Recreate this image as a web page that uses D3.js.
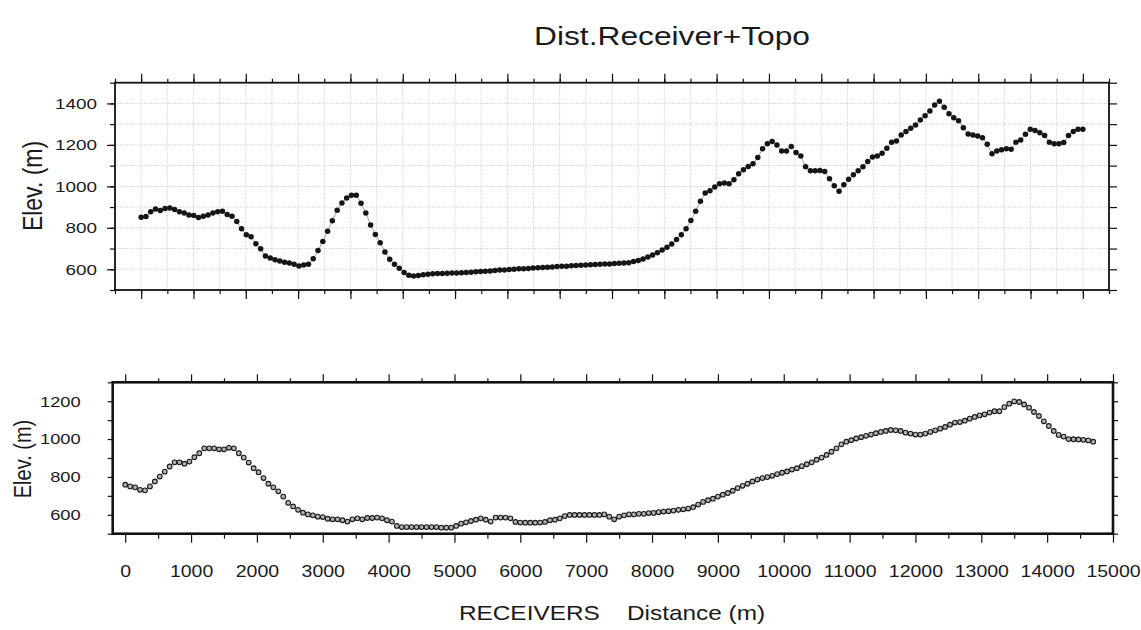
<!DOCTYPE html>
<html>
<head>
<meta charset="utf-8">
<script src="https://cdn.jsdelivr.net/npm/d3@7"></script>
<style>
  html, body { margin: 0; padding: 0; background: #fff; }
  text { font-family: "Liberation Sans", Arial, Helvetica, sans-serif; fill: #1a1a1a; }
</style>
</head>
<body>
<svg id="chart" width="1141" height="630"></svg>
<script>
// Upper profile: receiver elevations (m), one value per receiver station
const topElevation = [
  851, 854, 878, 891, 883, 893, 896, 888, 878, 872, 862, 859, 850, 856, 862, 872, 878, 880, 864, 856,
  830, 795, 766, 757, 723, 699, 664, 654, 646, 640, 634, 630, 624, 616, 621, 624, 651, 690, 734, 784,
  834, 885, 920, 944, 957, 957, 918, 872, 814, 768, 728, 683, 648, 624, 605, 584, 571, 568, 570, 573,
  576, 578, 579, 579, 581, 582, 582,
  583, 585, 586, 588, 589, 591, 592, 594, 596, 597, 599, 600, 602, 603, 604, 606, 607, 609, 610, 611,
  613, 614, 615, 617, 618, 619, 620, 622, 623, 624, 625, 626, 628, 629, 630, 632,
  637, 642, 650, 659, 669, 680, 693, 706, 722, 744, 766, 795, 835, 880, 928, 968, 979, 997, 1013, 1016,
  1013, 1032, 1061, 1080,
  1096, 1109, 1139, 1181, 1206, 1216, 1200, 1171, 1171, 1192, 1163, 1147, 1094, 1075, 1075, 1077, 1072, 1037, 1003, 976,
  1008, 1034, 1056, 1075, 1094, 1120, 1141, 1146, 1160, 1184, 1213, 1219, 1248, 1264, 1280, 1296, 1320, 1341, 1363, 1392,
  1411, 1382, 1350, 1331, 1317, 1283, 1253, 1248, 1243, 1235, 1203, 1157, 1171, 1176, 1181, 1179, 1213, 1224, 1251, 1275,
  1270, 1259, 1245, 1213, 1206, 1205, 1211, 1245, 1264, 1275, 1275
];
const topLineLength = 18000;          // distance covered by the upper profile
// Lower profile: receiver elevations (m) every 75 m
const bottomElevation = [
  759, 750, 745, 732, 729, 750, 776, 802, 828, 855, 877, 877, 870, 881, 904, 925, 951, 951, 951, 946,
  946, 954, 951, 925, 902, 876, 846, 825, 794, 764, 745, 724, 696, 663, 644, 626, 611, 602, 597, 590,
  588, 579, 576, 576, 571, 564, 576, 581, 576, 583, 583, 585, 581, 571, 564, 541, 535, 535, 535, 535,
  535, 535, 535, 535, 532, 532, 532, 541, 553, 560, 567, 574, 581, 574, 564, 585, 585, 585, 581, 562,
  559, 558, 558, 558, 559, 562, 571, 574, 581, 593, 599, 599, 599, 599, 599, 599, 599,
  602, 590, 576, 590, 597, 602, 602, 605, 605, 609, 610, 614, 617, 619, 622, 626, 629, 633, 640, 654,
  668, 677, 685, 696, 706, 715, 727, 741, 753, 764, 776, 786, 794, 799, 806, 815, 822, 829, 839, 846,
  857, 867, 877, 891, 902, 916, 933, 951, 972, 986, 994, 1003, 1010, 1017, 1024, 1031, 1038, 1043, 1048, 1046,
  1043, 1034, 1029, 1024, 1024, 1029, 1038, 1046, 1055, 1064, 1076, 1087, 1090, 1097, 1108, 1117, 1125, 1131, 1140, 1147,
  1147, 1169, 1187, 1199, 1196, 1183, 1166, 1143, 1122, 1094, 1069, 1043, 1022, 1013, 1000, 999, 998, 996, 993, 986
];
const bottomSpacing = 75;             // m between receivers

// Tick values
const topYTicks = [600, 800, 1000, 1200, 1400];
const bottomYTicks = [600, 800, 1000, 1200];
const bottomXTicks = [0, 1000, 2000, 3000, 4000, 5000, 6000, 7000, 8000, 9000, 10000, 11000, 12000, 13000, 14000, 15000];

const SX = 1.22;   // horizontal stretch of the lettering
const svg = d3.select("#chart");

const topPts = topElevation.map((e, i) => ({ d: i * topLineLength / (topElevation.length - 1), e }));
const botPts = bottomElevation.map((e, i) => ({ d: i * bottomSpacing, e }));

// ---------- scales ----------
const xTop = d3.scaleLinear().domain([-500, 18500]).range([115, 1109]);
const yTop = d3.scaleLinear().domain([500, 1500]).range([290, 82.7]);
const xBot = d3.scaleLinear().domain([-190, 15000]).range([112.7, 1113]);
const yBot = d3.scaleLinear().domain([500, 1300]).range([533.7, 382.3]);

function cleanAxis(g) {
  g.select(".domain").remove();
  g.selectAll(".tick line").attr("stroke", "#111").attr("stroke-width", 1.2);
}
function stretchLeftLabels(g, fs) {
  g.selectAll(".tick text")
    .attr("font-size", fs)
    .attr("transform", `scale(${SX},1)`)
    .attr("x", function () { return +this.getAttribute("x") / SX; });
}
function stretchBottomLabels(g, fs) {
  g.selectAll(".tick text").attr("font-size", fs).attr("transform", `scale(${SX},1)`);
}

// ---------- upper panel ----------
const gTop = svg.append("g");
// dotted grid
gTop.append("g").selectAll("line")
  .data(d3.range(0, 18001, 500))
  .join("line")
  .attr("x1", d => xTop(d)).attr("x2", d => xTop(d))
  .attr("y1", yTop(1500)).attr("y2", yTop(500))
  .attr("stroke", "#c4c4c4").attr("stroke-width", 0.8).attr("stroke-dasharray", "1.2,1.2");
gTop.append("g").selectAll("line")
  .data(d3.range(600, 1401, 100))
  .join("line")
  .attr("x1", xTop(-500)).attr("x2", xTop(18500))
  .attr("y1", d => yTop(d)).attr("y2", d => yTop(d))
  .attr("stroke", "#c4c4c4").attr("stroke-width", 0.8).attr("stroke-dasharray", "1.2,1.2");

// axes
gTop.append("g").attr("transform", `translate(${xTop(-500)},0)`)
  .call(d3.axisLeft(yTop).tickValues(d3.range(500, 1501, 100)).tickSize(5).tickFormat(""))
  .call(cleanAxis);
gTop.append("g").attr("transform", `translate(${xTop(-500)},0)`)
  .call(d3.axisLeft(yTop).tickValues(topYTicks).tickSize(8).tickPadding(10).tickFormat(d3.format("d")))
  .call(cleanAxis).call(g => stretchLeftLabels(g, 15.5));
gTop.append("g").attr("transform", `translate(${xTop(18500)},0)`)
  .call(d3.axisRight(yTop).tickValues(d3.range(500, 1501, 100)).tickSize(8).tickFormat(""))
  .call(cleanAxis);
[[d3.axisTop, yTop(1500)], [d3.axisBottom, yTop(500)]].forEach(([ax, y]) => {
  gTop.append("g").attr("transform", `translate(0,${y})`)
    .call(ax(xTop).tickValues(d3.range(-500, 18501, 500)).tickSize(4).tickFormat(""))
    .call(cleanAxis);
  gTop.append("g").attr("transform", `translate(0,${y})`)
    .call(ax(xTop).tickValues(d3.range(0, 18001, 1000)).tickSize(9).tickFormat(""))
    .call(cleanAxis);
});
// frame
gTop.append("rect")
  .attr("x", xTop(-500)).attr("y", yTop(1500))
  .attr("width", xTop(18500) - xTop(-500)).attr("height", yTop(500) - yTop(1500))
  .attr("fill", "none").attr("stroke", "#111").attr("stroke-width", 1.8);

// profile
gTop.append("path").datum(topPts)
  .attr("d", d3.line().x(p => xTop(p.d)).y(p => yTop(p.e)))
  .attr("fill", "none").attr("stroke", "#8a8a8a").attr("stroke-width", 0.8);
gTop.append("g").selectAll("circle").data(topPts).join("circle")
  .attr("cx", p => xTop(p.d)).attr("cy", p => yTop(p.e)).attr("r", 2.75)
  .attr("fill", "#151515");

gTop.append("text")
  .attr("transform", `translate(32.5,186) rotate(-90) scale(1,${SX})`)
  .attr("text-anchor", "middle").attr("dy", "0.35em")
  .attr("font-size", 23).text("Elev. (m)");

// ---------- lower panel ----------
const gBot = svg.append("g");
gBot.append("g").attr("transform", `translate(${xBot(-190)},0)`)
  .call(d3.axisLeft(yBot).tickValues(d3.range(500, 1301, 100)).tickSize(5).tickPadding(27).tickFormat(d => bottomYTicks.includes(d) ? d : ""))
  .call(cleanAxis).call(g => stretchLeftLabels(g, 15));
gBot.append("g").attr("transform", `translate(${xBot(15000)},0)`)
  .call(d3.axisRight(yBot).tickValues(d3.range(500, 1301, 100)).tickSize(5).tickFormat(""))
  .call(cleanAxis);
gBot.append("g").attr("transform", `translate(0,${yBot(1300)})`)
  .call(d3.axisTop(xBot).tickValues(d3.range(500, 15000, 1000)).tickSize(4).tickFormat(""))
  .call(cleanAxis);
gBot.append("g").attr("transform", `translate(0,${yBot(1300)})`)
  .call(d3.axisTop(xBot).tickValues(bottomXTicks).tickSize(8).tickFormat(""))
  .call(cleanAxis);
gBot.append("g").attr("transform", `translate(0,${yBot(500)})`)
  .call(d3.axisBottom(xBot).tickValues(d3.range(500, 15000, 1000)).tickSize(5).tickFormat(""))
  .call(cleanAxis);
gBot.append("g").attr("transform", `translate(0,${yBot(500)})`)
  .call(d3.axisBottom(xBot).tickValues(bottomXTicks).tickSize(9).tickPadding(23).tickFormat(d3.format("d")))
  .call(cleanAxis).call(g => stretchBottomLabels(g, 16));
gBot.append("rect")
  .attr("x", xBot(-190)).attr("y", yBot(1300))
  .attr("width", xBot(15000) - xBot(-190)).attr("height", yBot(500) - yBot(1300))
  .attr("fill", "none").attr("stroke", "#111").attr("stroke-width", 2.6);

gBot.append("path").datum(botPts)
  .attr("d", d3.line().x(p => xBot(p.d)).y(p => yBot(p.e)))
  .attr("fill", "none").attr("stroke", "#888").attr("stroke-width", 0.6);
gBot.append("g").selectAll("circle").data(botPts).join("circle")
  .attr("cx", p => xBot(p.d)).attr("cy", p => yBot(p.e)).attr("r", 2.35)
  .attr("fill", "#b4b4b4").attr("stroke", "#1a1a1a").attr("stroke-width", 1.1);

gBot.append("text")
  .attr("transform", `translate(22,459) rotate(-90) scale(1,${SX})`)
  .attr("text-anchor", "middle").attr("dy", "0.35em")
  .attr("font-size", 20).text("Elev. (m)");

// ---------- titles ----------
svg.append("text")
  .attr("transform", `translate(672,45) scale(${SX},1)`)
  .attr("text-anchor", "middle").attr("font-size", 26)
  .text("Dist.Receiver+Topo");
svg.append("text")
  .attr("transform", `translate(612,620) scale(${SX},1)`)
  .attr("text-anchor", "middle").attr("font-size", 20)
  .attr("xml:space", "preserve").style("white-space", "pre")
  .text("RECEIVERS    Distance (m)");
</script>
</body>
</html>
